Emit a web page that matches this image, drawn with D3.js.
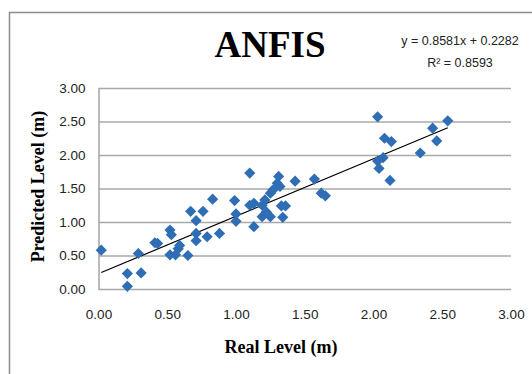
<!DOCTYPE html>
<html>
<head>
<meta charset="utf-8">
<script src="https://cdn.jsdelivr.net/npm/d3@7"></script>
<style>
  html, body { margin: 0; padding: 0; background: #fff; }
  svg { display: block; }
</style>
</head>
<body>
<svg id="chart" width="532" height="374"></svg>
<script>
// ---- data ----
const realLevel = [0.02,0.21,0.21,0.31,0.29,0.41,0.43,0.52,0.53,0.52,0.56,0.58,0.59,0.65,0.67,0.71,0.71,0.71,0.76,0.79,0.83,0.88,0.99,1.00,1.00,1.10,1.10,1.13,1.13,1.19,1.19,1.21,1.22,1.25,1.25,1.27,1.30,1.31,1.32,1.33,1.36,1.34,1.43,1.57,1.62,1.65,2.03,2.08,2.13,2.07,2.03,2.04,2.12,2.34,2.43,2.46,2.54];
const predictedLevel = [0.58,0.23,0.04,0.24,0.53,0.69,0.68,0.88,0.81,0.51,0.51,0.60,0.65,0.50,1.16,1.02,0.83,0.72,1.16,0.78,1.34,0.83,1.32,1.12,1.01,1.73,1.25,0.93,1.28,1.25,1.08,1.33,1.15,1.08,1.43,1.48,1.58,1.68,1.53,1.24,1.24,1.07,1.61,1.64,1.43,1.39,2.57,2.25,2.20,1.96,1.91,1.80,1.62,2.03,2.40,2.21,2.51];
const xTicks = [0, 0.5, 1, 1.5, 2, 2.5, 3];
const yTicks = [0, 0.5, 1, 1.5, 2, 2.5, 3];
const slope = 0.8581, intercept = 0.2282, rSquared = 0.8593;
const titleText = "ANFIS";
const xTitle = "Real Level (m)";
const yTitle = "Predicted Level (m)";

// ---- layout ----
const svg = d3.select("#chart");
const plotLeft = 98.5, plotRight = 511, plotTop = 88, plotBottom = 289;
const x = d3.scaleLinear().domain([0, 3]).range([plotLeft, plotRight]);
const y = d3.scaleLinear().domain([0, 3]).range([plotBottom, plotTop]);
const gridColor = "#a9a9a9";
const tickFont = "'Liberation Sans', Arial, sans-serif";
const serif = "'Liberation Serif', 'Times New Roman', serif";

// outer chart border
svg.append("rect").attr("x", 9.5).attr("y", 12.5).attr("width", 700).attr("height", 500)
  .attr("fill", "#fff").attr("stroke", "#8c8c8c").attr("stroke-width", 1.5);

// y axis with gridlines
const gy = svg.append("g").attr("transform", `translate(${plotLeft},0)`)
  .call(d3.axisLeft(y).tickValues(yTicks).tickFormat(d3.format(".2f"))
    .tickSize(-(plotRight - plotLeft)).tickSizeOuter(0).tickPadding(13));
gy.selectAll(".tick line").attr("stroke", gridColor).attr("stroke-width", 1.6);
gy.select(".domain").attr("stroke", gridColor).attr("stroke-width", 1.6);
gy.selectAll("text").attr("font-family", tickFont).attr("font-size", 13.5).attr("fill", "#222");

// x axis labels
const gx = svg.append("g").attr("transform", `translate(0,${plotBottom})`)
  .call(d3.axisBottom(x).tickValues(xTicks).tickFormat(d3.format(".2f"))
    .tickSize(0).tickPadding(20));
gx.select(".domain").remove();
gx.selectAll("text").attr("font-family", tickFont).attr("font-size", 13.5).attr("fill", "#222");

// trend line
const xmin = d3.min(realLevel), xmax = d3.max(realLevel);
svg.append("line")
  .attr("x1", x(xmin)).attr("y1", y(slope * xmin + intercept))
  .attr("x2", x(xmax)).attr("y2", y(slope * xmax + intercept))
  .attr("stroke", "#000").attr("stroke-width", 1.2);

// diamond markers
const r = 5.6;
const diamond = `M0,${-r}L${r},0L0,${r}L${-r},0Z`;
svg.append("g").selectAll("path").data(realLevel.map((d, i) => [d, predictedLevel[i]]))
  .join("path")
  .attr("d", diamond)
  .attr("transform", d => `translate(${x(d[0])},${y(d[1])})`)
  .attr("fill", "#2f6db4");

// title
svg.append("text").attr("x", 270).attr("y", 57).attr("text-anchor", "middle")
  .attr("font-family", serif).attr("font-weight", "bold").attr("font-size", 37)
  .attr("fill", "#000").text(titleText);

// equation
svg.append("text").attr("x", 460).attr("y", 45).attr("text-anchor", "middle")
  .attr("font-family", tickFont).attr("font-size", 12.5).attr("fill", "#222")
  .text(`y = ${slope}x + ${intercept}`);
svg.append("text").attr("x", 460).attr("y", 67).attr("text-anchor", "middle")
  .attr("font-family", tickFont).attr("font-size", 12.5).attr("fill", "#222")
  .text(`R² = ${rSquared}`);

// axis titles
svg.append("text").attr("x", 281).attr("y", 353).attr("text-anchor", "middle")
  .attr("font-family", serif).attr("font-weight", "bold").attr("font-size", 18)
  .attr("fill", "#000").text(xTitle);
svg.append("text").attr("transform", "translate(44,186.5) rotate(-90)").attr("text-anchor", "middle")
  .attr("font-family", serif).attr("font-weight", "bold").attr("font-size", 18)
  .attr("fill", "#000").text(yTitle);
</script>
</body>
</html>
